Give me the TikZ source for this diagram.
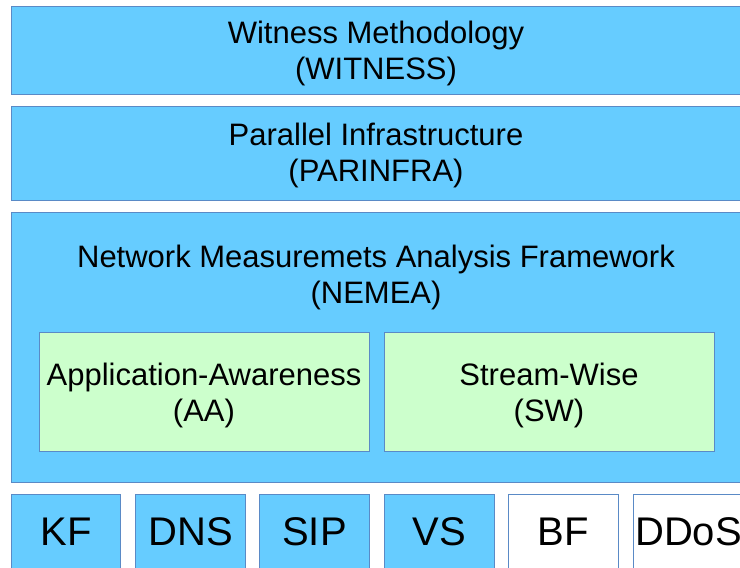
\documentclass[tikz,border=0pt]{standalone}
\usepackage{fontspec}
\setmainfont{Liberation Sans}
\definecolor{layerblue}{HTML}{66CCFF}
\definecolor{layergreen}{HTML}{CCFFCC}
\definecolor{edgeblue}{HTML}{5A8AC6}
\begin{document}
\begin{tikzpicture}[x=1pt,y=-1pt,
  layer/.style={draw=edgeblue, line width=1pt, fill=layerblue, anchor=north west, inner sep=0pt},
  sublayer/.style={layer, fill=layergreen},
  plainmodule/.style={layer, fill=white},
  title/.style={align=center, inner sep=0pt, font=\fontsize{31}{36}\selectfont},
  modlabel/.style={inner sep=0pt, font=\fontsize{40}{44}\selectfont}]
\useasboundingbox (0,0) rectangle (740,568);
\clip (0,0) rectangle (740,568);
% stacked layers
\node[layer, minimum width=740pt, minimum height=88pt] (witness) at (11,6) {};
\node[layer, minimum width=740pt, minimum height=94pt] (parinfra) at (11,106) {};
\node[layer, minimum width=740pt, minimum height=270pt] (nemea) at (11,212) {};
\node[title] (witness-text) at (376,53) {Witness Methodology\\(WITNESS)};
\node[title] (parinfra-text) at (376,155) {Parallel Infrastructure\\(PARINFRA)};
\node[title] (nemea-text) at (376,277) {Network Measuremets Analysis Framework\\(NEMEA)};
% NEMEA components
\node[sublayer, minimum width=330pt, minimum height=119pt] (aa) at (39,332) {};
\node[sublayer, minimum width=330pt, minimum height=119pt] (sw) at (384,332) {};
\node[title] (aa-text) at (204,395) {Application-Awareness\\(AA)};
\node[title] (sw-text) at (549,395) {Stream-Wise\\(SW)};
% detection modules
\node[layer, minimum width=109pt, minimum height=90pt] (kf) at (11,494) {};
\node[layer, minimum width=110pt, minimum height=90pt] (dns) at (135,494) {};
\node[layer, minimum width=110pt, minimum height=90pt] (sip) at (259,494) {};
\node[layer, minimum width=110pt, minimum height=90pt] (vs) at (384,494) {};
\node[plainmodule, minimum width=110pt, minimum height=90pt] (bf) at (508,494) {};
\node[plainmodule, minimum width=120pt, minimum height=90pt] (ddos) at (633,494) {};
\foreach \m/\t in {kf/KF, dns/DNS, sip/SIP, vs/VS, bf/BF}
  \node[modlabel] (\m-label) at (\m.north |- 0,532) {\t};
\node[modlabel, anchor=west] (ddos-label) at (635,532) {DDoS};
\end{tikzpicture}
\end{document}
